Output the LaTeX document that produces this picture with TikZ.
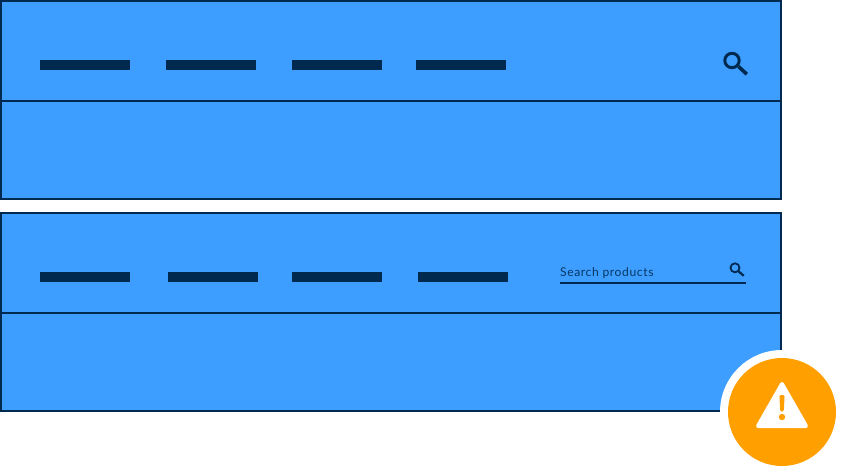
\documentclass[tikz,border=0pt]{standalone}
\usepackage{fontspec}
\setmainfont{Lato}[LetterSpace=5]
\definecolor{panelblue}{HTML}{3D9EFF}
\definecolor{navy}{HTML}{00294F}
\definecolor{amber}{HTML}{FFA000}
\tikzset{
  panel/.style={fill=panelblue,draw=navy,line width=2pt},
  divider/.style={draw=navy,line width=2pt},
  navbar/.style={fill=navy,draw=none},
  lens/.style={draw=navy},
}
\begin{document}
\begin{tikzpicture}[x=1pt,y=-1pt]
\useasboundingbox (0,0) rectangle (844,474);
\fill[white] (0,0) rectangle (844,474);
% top panel
\draw[panel] (1,1) rectangle (781,199);
\draw[divider] (1,101) -- (781,101);
\foreach \a in {40,166,292,416}{\fill[navbar] (\a,60) rectangle +(90,10);}
\draw[lens,line width=3pt] (732,60.5) circle (7.2pt);
\draw[lens,line width=3.6pt] (738.5,66.5) -- (746.8,74.2);
% bottom panel
\draw[panel] (1,213) rectangle (781,411);
\draw[divider] (1,313) -- (781,313);
\foreach \a in {40,168,292,418}{\fill[navbar] (\a,272) rectangle +(90,10);}
\node[anchor=base west,inner sep=0pt,text=navy,opacity=.88,font=\fontsize{12.1pt}{14pt}\selectfont] (searchlabel) at (560,276) {Search products};
\fill[navy] (560,282) rectangle (746,284);
\draw[lens,line width=1.8pt] (735,267.8) circle (4.5pt);
\draw[lens,line width=2.2pt] (738.6,271.4) -- (743.8,275.8);
% warning badge
\fill[white] (782,412) circle (62);
\fill[amber] (782,412) circle (54);
\fill[white,draw=white,line width=4pt,line join=round] (782,384) -- (806,426) -- (758,426) -- cycle;
\fill[amber,rounded corners=1.5pt] (779.4,395) -- (784.6,395) -- (783.8,411.5) -- (780.2,411.5) -- cycle;
\fill[amber] (782,417) circle (3.2);
\end{tikzpicture}
\end{document}
